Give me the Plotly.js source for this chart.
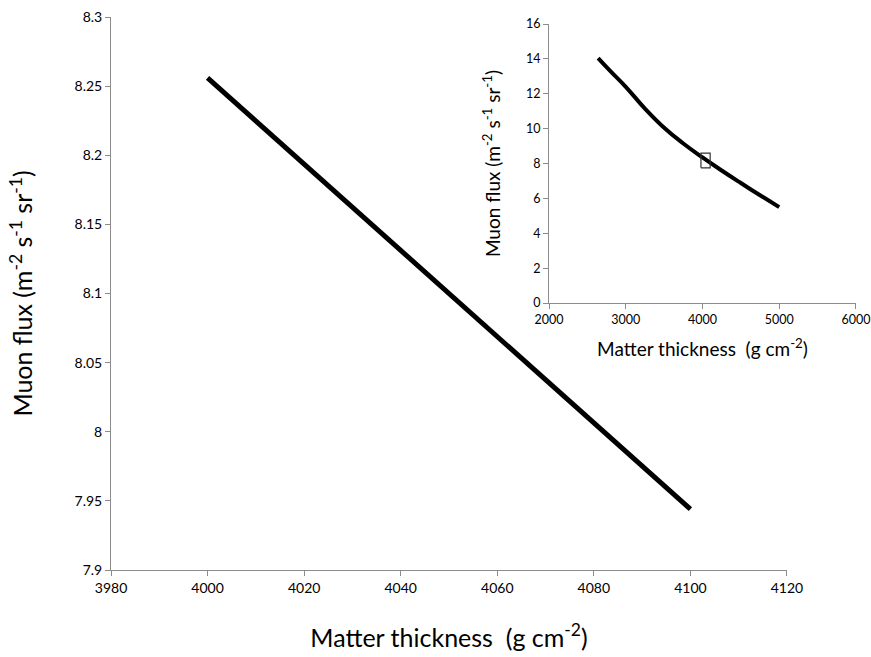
<!DOCTYPE html>
<html><head><meta charset="utf-8">
<script src="https://cdn.plot.ly/plotly-3.0.1.min.js"></script>
<style>html,body{margin:0;padding:0;background:#fff}</style>
</head><body><div id="chart" style="width:871px;height:657px"></div>
<script>
// Main chart (zoomed range)
const mainThickness = [4000, 4100];
const mainFlux = [8.256, 7.944];
const mainYTicks = [7.9, 7.95, 8, 8.05, 8.1, 8.15, 8.2, 8.25, 8.3];
const mainYTickText = ["7.9", "7.95", "8", "8.05", "8.1", "8.15", "8.2", "8.25", "8.3"];
const mainXTicks = [3980, 4000, 4020, 4040, 4060, 4080, 4100, 4120];
// Inset chart (full range)
const insetThickness = [2640, 2800, 3000, 3250, 3500, 3750, 4000, 4250, 4500, 4750, 5000];
const insetFlux = [14.05, 13.3, 12.4, 11.15, 10.05, 9.15, 8.35, 7.6, 6.88, 6.18, 5.5];
const boxX = [3980, 4100, 4100, 3980, 3980];
const boxY = [7.75, 7.75, 8.6, 8.6, 7.75];

const font = "Lato, 'Open Sans', sans-serif";
const axisCommon = {showgrid:false, zeroline:false, showline:true, linecolor:'#8c8c8c', linewidth:1,
  ticks:'outside', ticklen:5, tickcolor:'#8c8c8c', tickfont:{family:font, size:14, color:'#000'}};

const traces = [
  {x: mainThickness, y: mainFlux, xaxis:'x', yaxis:'y', mode:'lines', line:{color:'#000', width:5}, hoverinfo:'skip'},
  {x: insetThickness, y: insetFlux, xaxis:'x2', yaxis:'y2', mode:'lines', line:{color:'#000', width:4, shape:'spline', smoothing:1.3}, hoverinfo:'skip'},
  {x: boxX, y: boxY, xaxis:'x2', yaxis:'y2', mode:'lines', line:{color:'#333', width:1.2}, hoverinfo:'skip'}
];

const layout = {
  width:871, height:657, showlegend:false,
  paper_bgcolor:'#fff', plot_bgcolor:'rgba(0,0,0,0)',
  margin:{l:111, r:10, t:17, b:87},
  font:{family:font, color:'#000'},
  xaxis: Object.assign({}, axisCommon, {domain:[0, 0.9013], range:[3980, 4120], tickvals: mainXTicks,
    title:{text:'Matter thickness  (g cm<sup>-2</sup>)', font:{family:font, size:25}, standoff:34}}),
  yaxis: Object.assign({}, axisCommon, {domain:[0, 1], range:[7.9, 8.3], tickvals: mainYTicks, ticktext: mainYTickText,
    title:{text:'Muon flux (m<sup>-2</sup> s<sup>-1</sup> sr<sup>-1</sup>)', font:{family:font, size:25}, standoff:34}}),
  xaxis2: Object.assign({}, axisCommon, {domain:[0.584, 0.9933], range:[2000, 6000], dtick:1000, anchor:'y2',
    title:{text:'Matter thickness  (g cm<sup>-2</sup>)', font:{family:font, size:19}, standoff:16}}),
  yaxis2: Object.assign({}, axisCommon, {domain:[0.4828, 0.9873], range:[0, 16], dtick:2, anchor:'x2',
    title:{text:'Muon flux (m<sup>-2</sup> s<sup>-1</sup> sr<sup>-1</sup>)', font:{family:font, size:19}, standoff:20}})
};
layout.xaxis2.tickfont = {family:font, size:12.5, color:'#000'};
layout.yaxis2.tickfont = {family:font, size:12.5, color:'#000'};

Plotly.newPlot('chart', traces, layout, {displayModeBar:false, staticPlot:true});
</script></body></html>
